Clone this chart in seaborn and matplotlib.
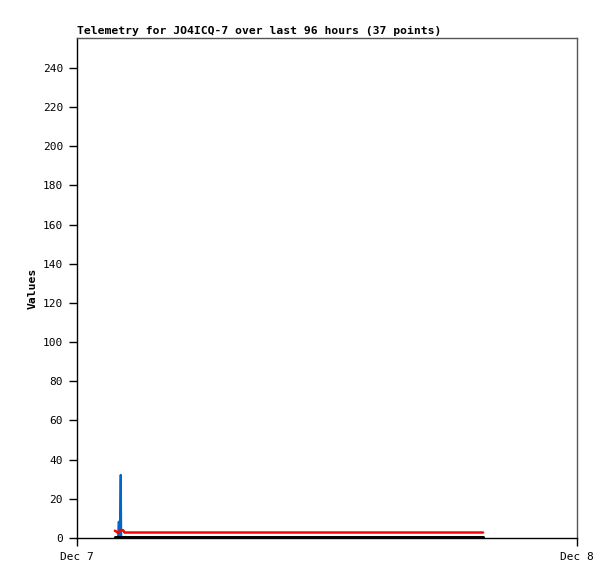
import matplotlib
matplotlib.use("Agg")
import matplotlib.pyplot as plt
import seaborn as sns
import pandas as pd

# hours since Dec 7 00:00 for each sample, plus the three telemetry channels
hours = [1.82, 1.90, 1.97, 2.01, 2.03, 2.06, 2.10, 2.12, 2.16, 2.22, 2.28, 2.35,
         4.0, 6.5, 9.0, 11.5, 14.0, 16.5, 19.49]
red_vals = [3.7, 3.2, 2.6, 2.8, 3.3, 3.9, 4.1, 4.1, 4.0, 3.9, 2.8, 2.8,
            2.8, 2.8, 2.8, 2.8, 2.8, 2.8, 2.8]
blue_vals = [0, 0, 0, 8.3, 0, 0, 32.2, 0, 0, 0, 0, 0,
             0, 0, 0, 0, 0, 0, 0]
black_vals = [0.6] * len(hours)

x_ticks = [0, 24]
x_labels = ["Dec 7", "Dec 8"]
y_ticks = list(range(0, 241, 20))

df = pd.DataFrame({"hours": hours, "red": red_vals, "blue": blue_vals, "black": black_vals})

sns.set_theme(style="white")
plt.rcParams["font.family"] = ["DejaVu Sans Mono"]
plt.rcParams["font.size"] = 8
plt.rcParams["text.color"] = "black"
plt.rcParams["axes.labelcolor"] = "black"
plt.rcParams["xtick.color"] = "black"
plt.rcParams["ytick.color"] = "black"

fig = plt.figure(figsize=(6.15, 5.79), dpi=100)
ax = fig.add_axes([77 / 615, 41 / 579, 500 / 615, 500 / 579])

sns.lineplot(x="hours", y="blue", data=df, ax=ax, color="#0066cc", linewidth=1.6)
sns.lineplot(x="hours", y="red", data=df, ax=ax, color="#ff0000", linewidth=1.8)
sns.lineplot(x="hours", y="black", data=df, ax=ax, color="black", linewidth=2.2)

ax.set_xlim(0, 24)
ax.set_ylim(0, 255.3)
ax.set_xticks(x_ticks)
ax.set_xticklabels(x_labels)
ax.set_yticks(y_ticks)
ax.tick_params(axis="both", direction="out", length=6, width=1, color="black",
               labelcolor="black", labelsize=8, pad=4, left=True, bottom=True)
ax.set_xlabel("")
ax.set_ylabel("Values", fontweight="bold", fontsize=8.2, labelpad=4, color="black")
ax.set_title("Telemetry for JO4ICQ-7 over last 96 hours (37 points)",
             fontweight="bold", fontsize=8.2, loc="left", pad=3, color="black")

for side in ["left", "bottom"]:
    ax.spines[side].set_color("black")
    ax.spines[side].set_linewidth(1)
for side in ["top", "right"]:
    ax.spines[side].set_color("#555555")
    ax.spines[side].set_linewidth(1)

fig.savefig("out.png", dpi=100)
